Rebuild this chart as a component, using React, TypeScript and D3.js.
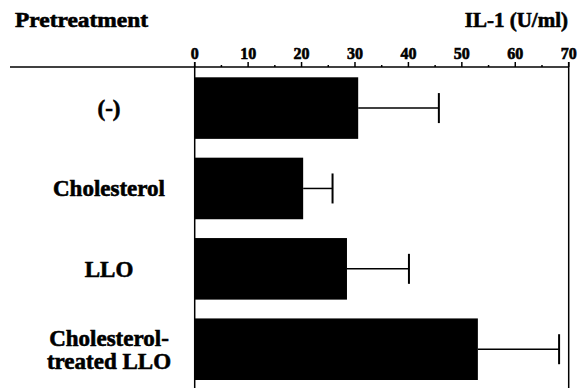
import React from "react";
import * as d3 from "d3";

const categories = ["(-)", "Cholesterol", "LLO", "Cholesterol-\ntreated LLO"];
const values = [30.6, 20.3, 28.5, 53.0];
const errors = [15.1, 5.5, 11.6, 15.2];
const majorTicks = [0, 10, 20, 30, 40, 50, 60, 70];
const minorTicks = [5, 15, 25, 35, 45, 55, 65];

export default function App() {
  const W = 581, H = 388;
  const axisY = 67;
  const x = d3.scaleLinear().domain([0, 70]).range([194.7, 568.7]);
  const y = d3.scaleBand().domain(categories).range([77.3, 380]).paddingInner(0.234).paddingOuter(0);
  const font = "'Liberation Serif', 'Times New Roman', serif";
  const heavy = { stroke: "#000", strokeWidth: 0.6 };
  return (
    <svg width={W} height={H} style={{ position: "absolute", left: 0, top: 0, background: "#fff" }}>
      <rect width={W} height={H} fill="#fff" />
      <text x={15} y={27} fontFamily={font} fontWeight="bold" fontSize={21} textLength={133} lengthAdjust="spacingAndGlyphs" {...heavy}>Pretreatment</text>
      <text x={568} y={27} textAnchor="end" fontFamily={font} fontWeight="bold" fontSize={21} {...heavy}>IL-1 (U/ml)</text>
      <line x1={10} x2={x(70)} y1={axisY} y2={axisY} stroke="#000" strokeWidth={1.5} />
      <line x1={x(0)} x2={x(0)} y1={axisY - 5} y2={H} stroke="#000" strokeWidth={1.5} />
      <line x1={x(70)} x2={x(70)} y1={axisY - 5} y2={H} stroke="#000" strokeWidth={1.5} />
      {majorTicks.map((t) => (
        <g key={t}>
          <line x1={x(t)} x2={x(t)} y1={axisY} y2={axisY - 5} stroke="#000" strokeWidth={1.5} />
          <text x={x(t)} y={59} textAnchor="middle" fontFamily={font} fontWeight="bold" fontSize={16} {...heavy}>{t}</text>
        </g>
      ))}
      {minorTicks.map((t) => (
        <line key={t} x1={x(t)} x2={x(t)} y1={axisY} y2={axisY - 2} stroke="#000" strokeWidth={1.5} />
      ))}
      {categories.map((c, i) => {
        const y0 = y(c)!;
        const cy = y0 + y.bandwidth() / 2;
        const lines = c.split("\n");
        return (
          <g key={c}>
            <rect x={x(0)} y={y0} width={x(values[i]) - x(0)} height={y.bandwidth()} fill="#000" />
            <line x1={x(values[i])} x2={x(values[i] + errors[i])} y1={cy} y2={cy} stroke="#000" strokeWidth={1.5} />
            <line x1={x(values[i] + errors[i])} x2={x(values[i] + errors[i])} y1={cy - 15} y2={cy + 15} stroke="#000" strokeWidth={2} />
            {lines.map((l, k) => (
              <text key={k} x={109} y={cy + 8 + (k - (lines.length - 1) / 2) * 23} textAnchor="middle" fontFamily={font} fontWeight="bold" fontSize={23} {...heavy}>{l}</text>
            ))}
          </g>
        );
      })}
    </svg>
  );
}
